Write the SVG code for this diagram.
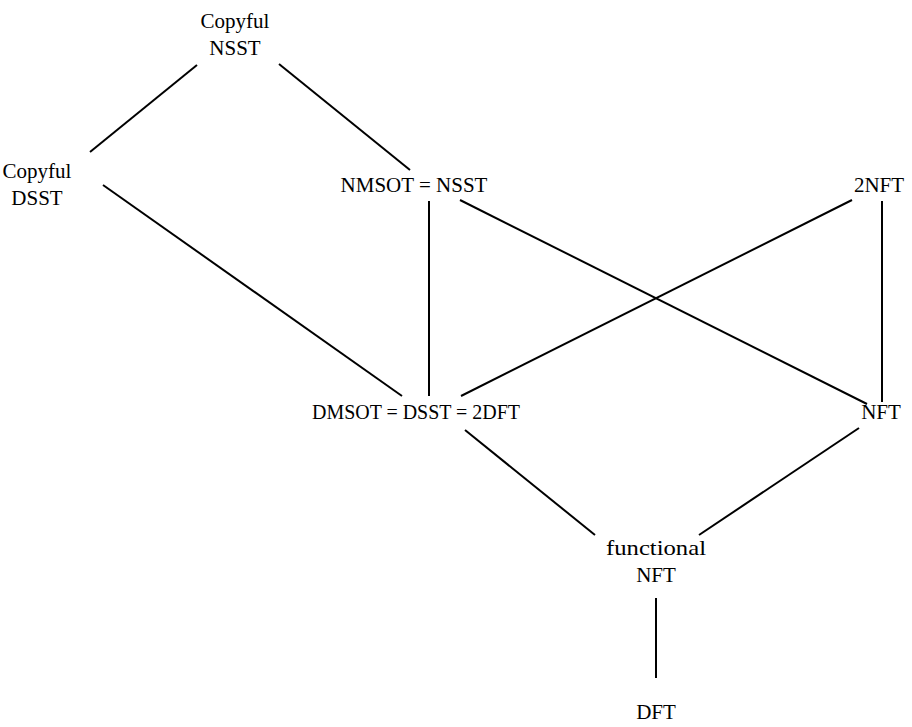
<svg xmlns="http://www.w3.org/2000/svg" width="912" height="727" viewBox="0 0 912 727">
  <style>
    .lbl { font-family: "Liberation Serif", "DejaVu Serif", serif; font-size: 21px; fill: #000; text-anchor: middle; }
    .edge { stroke: #000; stroke-width: 2; fill: none; stroke-linecap: butt; }
  </style>
  <rect width="912" height="727" fill="#fff"/>
  <g id="edges">
    <line class="edge" x1="197" y1="65" x2="90" y2="152"/>
    <line class="edge" x1="279" y1="64" x2="410" y2="170"/>
    <line class="edge" x1="103" y1="185" x2="402" y2="396"/>
    <line class="edge" x1="429" y1="201" x2="429" y2="396"/>
    <line class="edge" x1="460" y1="200" x2="867" y2="404"/>
    <line class="edge" x1="852" y1="200" x2="461" y2="396"/>
    <line class="edge" x1="882" y1="201" x2="882" y2="402"/>
    <line class="edge" x1="465" y1="430" x2="595" y2="535"/>
    <line class="edge" x1="859" y1="428" x2="699" y2="535"/>
    <line class="edge" x1="656" y1="598" x2="656" y2="678"/>
  </g>
  <g id="copyful-nsst"><text class="lbl" x="235" y="28">Copyful</text><text class="lbl" x="235" y="55">NSST</text></g>
  <g id="copyful-dsst"><text class="lbl" x="37" y="178">Copyful</text><text class="lbl" x="37" y="205">DSST</text></g>
  <g id="nmsot"><text class="lbl" x="414" y="192">NMSOT = NSST</text></g>
  <g id="twonft"><text class="lbl" x="879" y="192">2NFT</text></g>
  <g id="dmsot"><text class="lbl" x="416" y="419" textLength="208" lengthAdjust="spacingAndGlyphs">DMSOT = DSST = 2DFT</text></g>
  <g id="nft"><text class="lbl" x="881" y="419">NFT</text></g>
  <g id="functional-nft"><text class="lbl" x="656" y="555" textLength="100" lengthAdjust="spacingAndGlyphs">functional</text><text class="lbl" x="656" y="582">NFT</text></g>
  <g id="dft"><text class="lbl" x="656" y="719">DFT</text></g>
</svg>
